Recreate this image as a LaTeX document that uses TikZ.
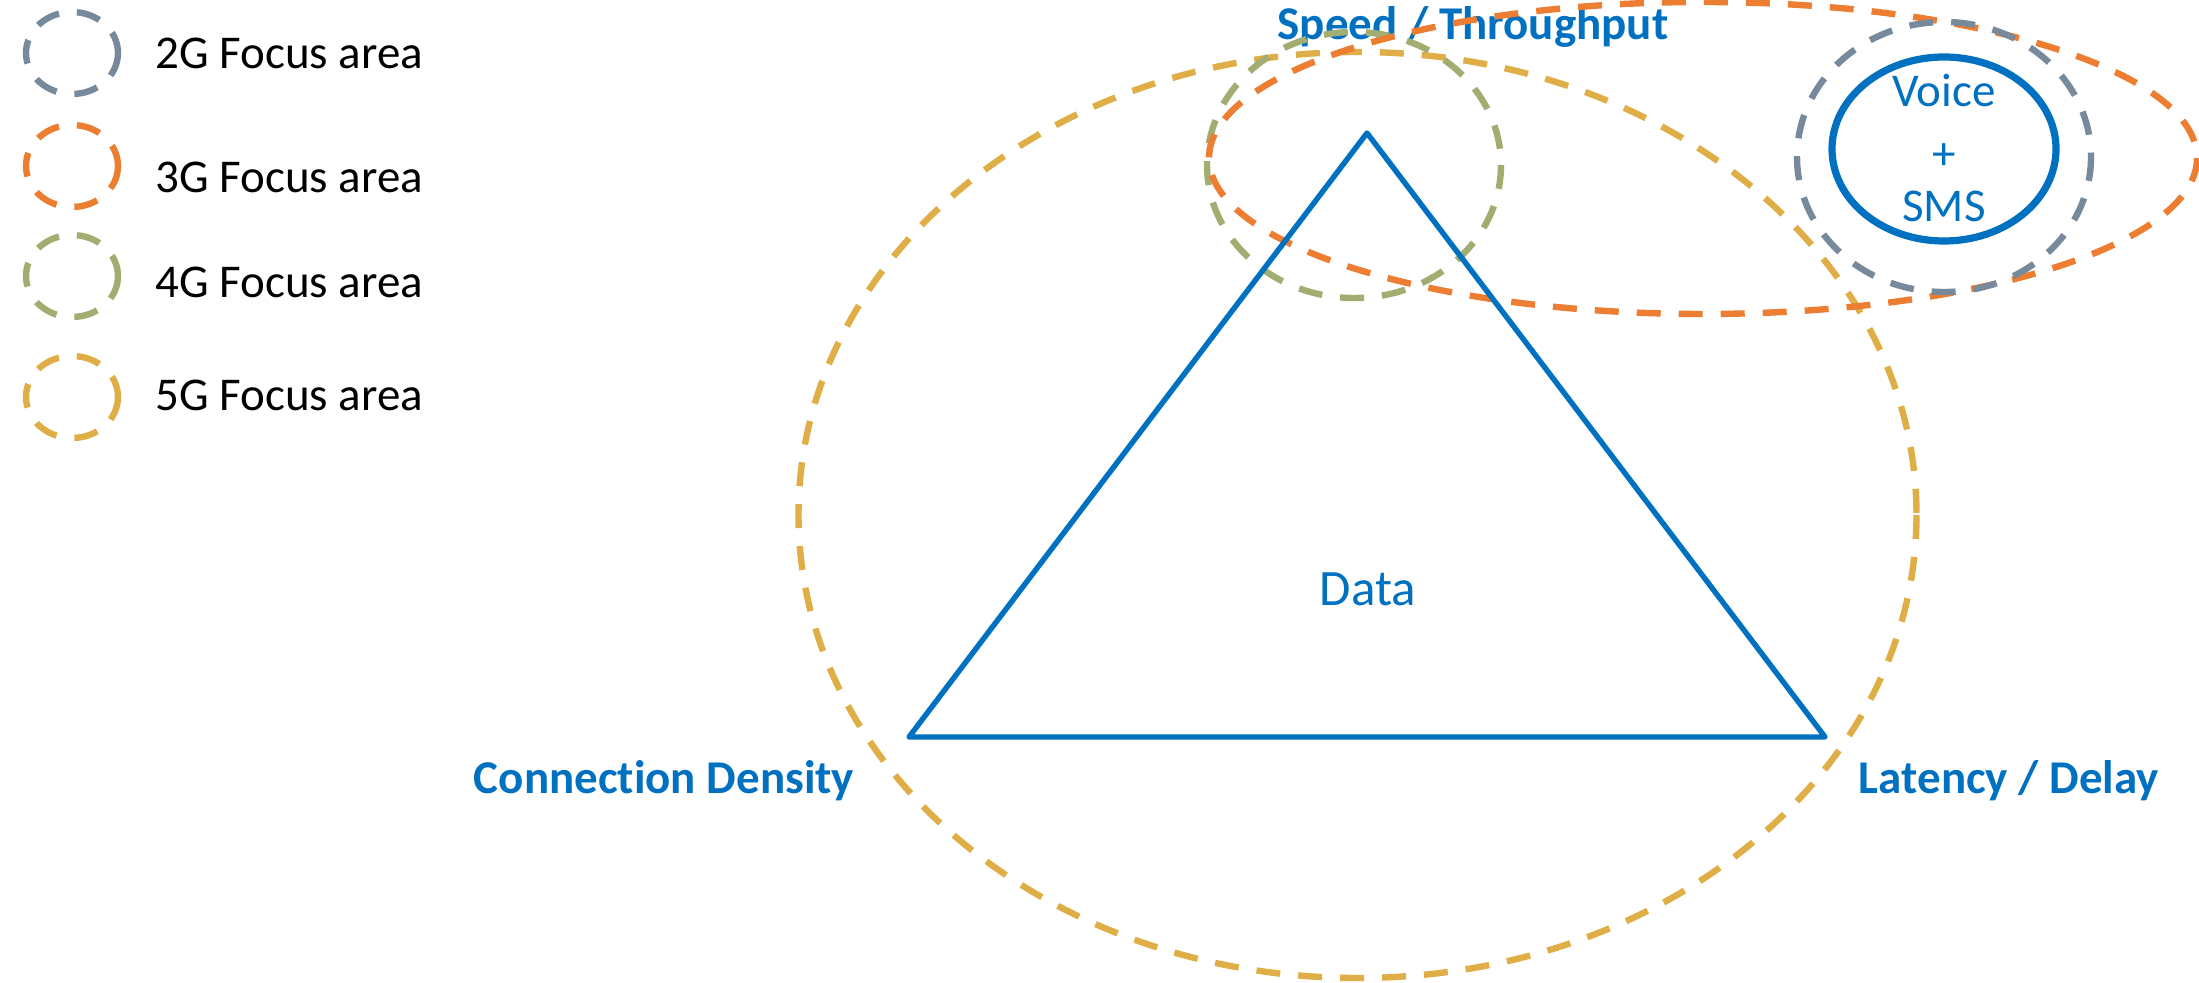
\documentclass[tikz,border=0pt]{standalone}
\usepackage{fontspec}
\setmainfont{Carlito}[Ligatures=NoCommon]

\definecolor{gblue}{HTML}{0070C0}
\definecolor{gtwo}{HTML}{768A9B}
\definecolor{gthree}{HTML}{ED7D31}
\definecolor{gfour}{HTML}{A2AD72}
\definecolor{gfive}{HTML}{DFAE47}

\tikzstyle{focus} = [style={dash pattern=on 12pt off 9pt, line width=3.2pt}]
\tikzstyle{corner} = [style={text=gblue, font=\fontsize{23.5}{28}\selectfont\bfseries, anchor=base, inner sep=0pt}]
\tikzstyle{plain} = [style={text=gblue, font=\fontsize{23.5}{28}\selectfont, anchor=base, inner sep=0pt}]
\tikzstyle{leg} = [style={text=black, font=\fontsize{23.5}{28}\selectfont, anchor=base west, inner sep=0pt}]

\newcommand*{\legx}{72}
\newcommand*{\legtx}{155}

\begin{document}
\begin{tikzpicture}[x=0.5pt,y=-0.5pt]
\useasboundingbox (0,0) rectangle (2199,983);

%% legend
\foreach \cy/\ty/\col/\g in {53/69/gtwo/2,166/193/gthree/3,276/298/gfour/4,397/411/gfive/5}
  {
  \draw [focus, \col] (\legx,\cy) ellipse [x radius=46, y radius=41];
  \node [leg] (leg\g) at (\legtx,\ty) {\g G Focus area};
  }

%% corners of the triangle
\coordinate (top) at (1367,133);
\coordinate (left) at (909,737);
\coordinate (right) at (1825,737);

\node [corner] (speed) at (1473,40) {Speed / Throughput};
\node [corner] (density) at (664,793) {Connection Density};
\node [corner] (latency) at (2009,793) {Latency / Delay};
\node [plain, font=\fontsize{25.5}{30}\selectfont] (data) at (1368,605) {Data};

%% voice + sms
\node [plain] (voice) at (1944,107) {Voice};
\node [plain] (plus) at (1944,170) {+};
\node [plain] (sms) at (1944,222) {SMS};

%% focus areas
\draw [focus, gfive] (1357.5,515) ellipse [x radius=559, y radius=463];
\draw [focus, gfour] (1354,165) ellipse [x radius=147, y radius=133];
\draw [focus, gthree] (1703,158) ellipse [x radius=494, y radius=156];
\draw [focus, gtwo] (1944,157) ellipse [x radius=147, y radius=135];

\draw [gblue, line width=3.6pt] (1944,149) ellipse [x radius=112, y radius=92];

%% triangle
\draw [gblue, line width=2.7pt, line join=round] (top) -- (right) -- (left) -- cycle;

\end{tikzpicture}
\end{document}
